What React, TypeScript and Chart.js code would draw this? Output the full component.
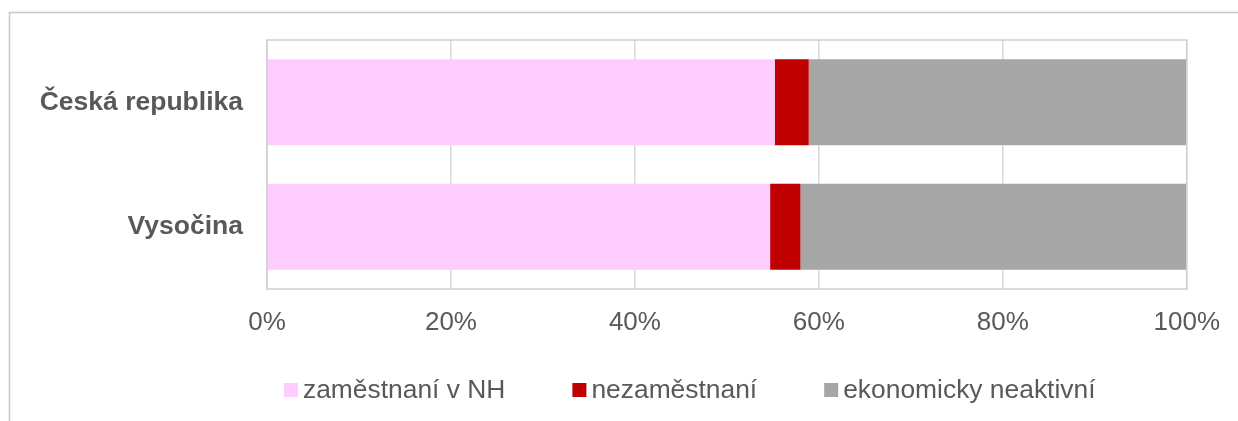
import React, { useEffect, useRef } from 'react';
import { Chart, registerables } from 'chart.js';

Chart.register(...registerables);

const categories = ['Česká republika', 'Vysočina'];
const employed = [55.2, 54.7];
const unemployed = [3.7, 3.3];
const inactive = [41.1, 42.0];
const seriesNames = ['zaměstnaní v NH', 'nezaměstnaní', 'ekonomicky neaktivní'];
const seriesColors = ['#FFCCFF', '#C00000', '#A6A6A6'];
const tickStep = 20;

const FONT = "'Liberation Sans', Arial, sans-serif";
const TEXT = '#595959';

const framePlugin = {
  id: 'frame',
  beforeDraw(chart: any) {
    const ctx = chart.ctx;
    ctx.save();
    ctx.fillStyle = '#ffffff';
    ctx.fillRect(0, 0, chart.width, chart.height);
    ctx.strokeStyle = '#c8c8c8';
    ctx.lineWidth = 1.5;
    ctx.beginPath();
    ctx.moveTo(9.5, chart.height);
    ctx.lineTo(9.5, 12.5);
    ctx.lineTo(chart.width, 12.5);
    ctx.stroke();
    ctx.restore();
  },
  afterDatasetsDraw(chart: any) {
    const { ctx, chartArea } = chart;
    ctx.save();
    ctx.strokeStyle = '#d0d0d0';
    ctx.lineWidth = 1.5;
    ctx.strokeRect(chartArea.left, chartArea.top, chartArea.right - chartArea.left, chartArea.bottom - chartArea.top);
    ctx.restore();
  },
};

const legendPlugin = {
  id: 'customLegend',
  afterDraw(chart: any) {
    const ctx = chart.ctx;
    ctx.save();
    ctx.font = `26.4px ${FONT}`;
    ctx.textBaseline = 'middle';
    ctx.textAlign = 'left';
    let x = 284;
    const cy = 390;
    chart.data.datasets.forEach((ds: any) => {
      ctx.fillStyle = ds.backgroundColor;
      ctx.fillRect(x, cy - 7, 14, 14);
      x += 14 + 5;
      ctx.fillStyle = TEXT;
      ctx.fillText(ds.label, x, cy + 1);
      x += ctx.measureText(ds.label).width + 67;
    });
    ctx.restore();
  },
};

export default function App() {
  const canvasRef = useRef<HTMLCanvasElement>(null);

  useEffect(() => {
    if (!canvasRef.current) return;
    const seriesValues = [employed, unemployed, inactive];
    const chart = new Chart(canvasRef.current, {
      type: 'bar',
      data: {
        labels: categories,
        datasets: seriesNames.map((name, i) => ({
          label: name,
          data: seriesValues[i],
          backgroundColor: seriesColors[i],
          borderWidth: 0,
          categoryPercentage: 0.69,
          barPercentage: 1,
        })),
      },
      options: {
        indexAxis: 'y',
        animation: false,
        responsive: false,
        maintainAspectRatio: false,
        layout: { padding: { left: 0, top: 40, right: 50, bottom: 0 } },
        plugins: {
          legend: { display: false },
          tooltip: { enabled: false },
          title: { display: false },
        },
        scales: {
          x: {
            type: 'linear',
            stacked: true,
            min: 0,
            max: 100,
            position: 'bottom',
            ticks: {
              stepSize: tickStep,
              callback: (v: any) => `${v}%`,
              font: { family: FONT, size: 26 },
              color: TEXT,
              padding: 18,
              maxRotation: 0,
            },
            grid: { color: '#D9D9D9', lineWidth: 1.5, drawTicks: false },
            border: { display: false },
            afterFit: (s: any) => {
              s.height = 132;
            },
          },
          y: {
            type: 'category',
            stacked: true,
            grid: { display: false, drawTicks: false },
            border: { display: false },
            ticks: {
              font: { family: FONT, size: 26.5, weight: 'bold' },
              color: TEXT,
              padding: 24,
            },
            afterFit: (s: any) => {
              s.width = 267;
            },
          },
        },
      },
      plugins: [framePlugin, legendPlugin],
    } as any);
    return () => chart.destroy();
  }, []);

  return (
    <div style={{ position: 'absolute', top: 0, left: 0, width: 1238, height: 421 }}>
      <canvas ref={canvasRef} width={1238} height={421} style={{ display: 'block' }} />
    </div>
  );
}
